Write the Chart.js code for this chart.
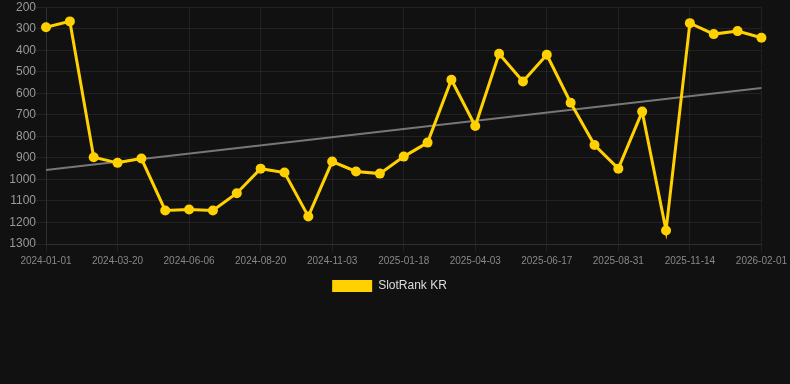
<!DOCTYPE html>
<html lang="en">
<head>
    <meta charset="UTF-8">
    <title>SlotRank KR</title>
    <style>
        html, body { margin: 0; padding: 0; background: #111111; }
        #wrap { width: 790px; height: 302px; position: relative; }
    </style>
</head>
<body>
    <div id="wrap">
        <canvas id="chart"></canvas>
    </div>
<script src="https://cdn.jsdelivr.net/npm/chart.js"></script>
<script>
// dates shown on the x axis (every third one gets a label)
const dates = [
    '2024-01-01', '2024-01-27', '2024-02-23', '2024-03-20', '2024-04-15', '2024-05-11',
    '2024-06-06', '2024-07-01', '2024-07-26', '2024-08-20', '2024-09-14', '2024-10-09',
    '2024-11-03', '2024-11-28', '2024-12-23', '2025-01-18', '2025-02-12', '2025-03-09',
    '2025-04-03', '2025-04-28', '2025-05-23', '2025-06-17', '2025-07-12', '2025-08-06',
    '2025-08-31', '2025-09-25', '2025-10-20', '2025-11-14', '2025-12-10', '2026-01-06',
    '2026-02-01'
];
// rank values
const ranks = [
    293, 266, 897, 923, 903, 1144, 1140, 1144, 1064, 950, 968,
    1172, 917, 963, 973, 894, 829, 537, 752, 416, 545, 421,
    644, 840, 950, 685, 1237, 274, 325, 311, 342
];
// trend line end points
const trendStart = 956;
const trendEnd = 575;

const yMin = 200;
const yMax = 1300;

const gold = '#FFD100';
const gridColor = 'rgba(255,255,255,0.07)';

// trend drawn as a two point line, the gaps are spanned
const trend = dates.map(() => null);
trend[0] = trendStart;
trend[trend.length - 1] = trendEnd;

const ctx = document.getElementById('chart').getContext('2d');
new Chart(ctx, {
    type: 'line',
    data: {
        labels: dates,
        datasets: [
            {
                label: 'SlotRank KR',
                data: ranks,
                borderColor: gold,
                backgroundColor: gold,
                borderWidth: 3,
                pointRadius: 5,
                pointHoverRadius: 6,
                pointBackgroundColor: gold,
                pointBorderWidth: 0,
                tension: 0
            },
            {
                label: 'trend',
                data: trend,
                borderColor: '#777777',
                borderWidth: 2,
                pointRadius: 0,
                spanGaps: true,
                fill: false
            }
        ]
    },
    options: {
        responsive: true,
        maintainAspectRatio: false,
        animation: false,
        layout: { padding: { left: 0, right: 11 } },
        plugins: {
            legend: {
                position: 'bottom',
                labels: {
                    color: '#dddddd',
                    boxWidth: 40,
                    boxHeight: 12,
                    font: { size: 12 },
                    filter: item => item.text !== 'trend',
                    generateLabels: chart =>
                        Chart.defaults.plugins.legend.labels.generateLabels(chart)
                            .map(item => ({ ...item, lineWidth: 0 }))
                }
            },
            tooltip: { enabled: false }
        },
        scales: {
            x: {
                grid: {
                    color: c => (c.index % 3 === 0 ? gridColor : 'transparent')
                },
                border: { color: gridColor },
                ticks: {
                    autoSkip: false,
                    maxRotation: 0,
                    color: '#888888',
                    font: { size: 10 },
                    callback: function (value, index) {
                        return index % 3 === 0 ? this.getLabelForValue(value) : '';
                    }
                }
            },
            y: {
                reverse: true,
                min: yMin,
                max: yMax,
                grid: { color: gridColor, tickLength: 10 },
                border: { color: gridColor },
                afterFit: scale => { scale.width = 46; },
                ticks: {
                    stepSize: 100,
                    padding: 0,
                    color: '#999999',
                    font: { size: 12 },
                    callback: value => String(value)
                }
            }
        }
    }
});
</script>
</body>
</html>
